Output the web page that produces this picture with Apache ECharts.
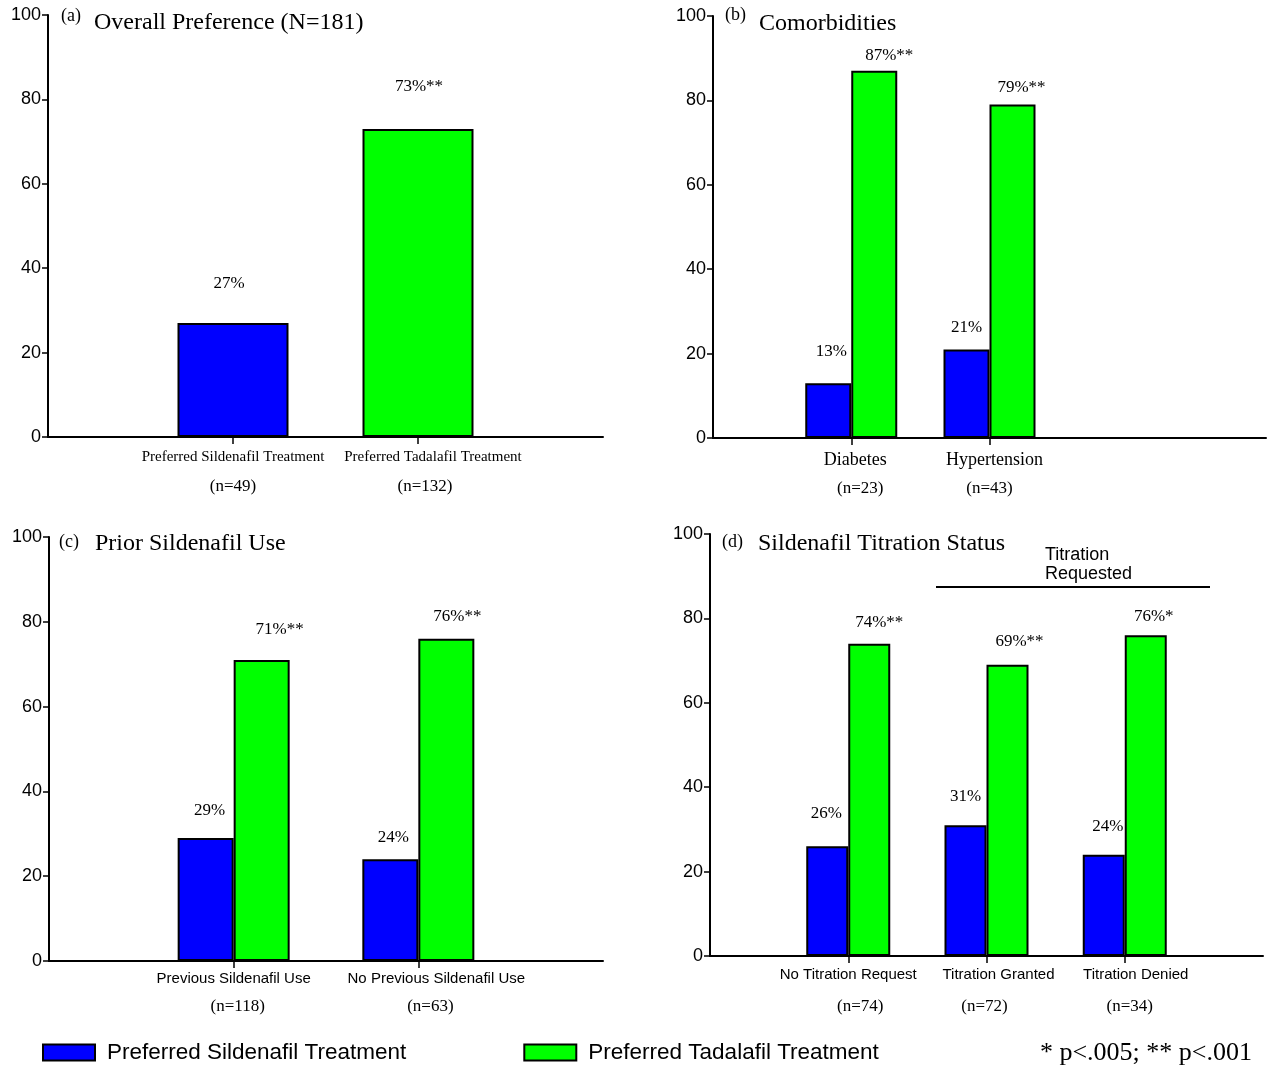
<!DOCTYPE html>
<html>
<head>
<meta charset="utf-8">
<script src="https://cdn.jsdelivr.net/npm/echarts@6/dist/echarts.min.js"></script>
<style>
  html, body { margin: 0; padding: 0; background: #fff; }
  #chart { width: 1267px; height: 1068px; }
</style>
</head>
<body>
<div id="chart"></div>
<script>
// ---- data -------------------------------------------------------------
const seriesNames = ['Preferred Sildenafil Treatment', 'Preferred Tadalafil Treatment'];

// (a) Overall preference
const overallCats = ['Preferred Sildenafil Treatment', 'Preferred Tadalafil Treatment'];
const overallN = [49, 132];
const overallPct = [27, 73];
const overallSig = ['', '**'];

// (b) Comorbidities
const comorbCats = ['Diabetes', 'Hypertension'];
const comorbN = [23, 43];
const comorbSild = [13, 21];
const comorbTada = [87, 79];
const comorbSig = ['**', '**'];

// (c) Prior sildenafil use
const priorCats = ['Previous Sildenafil Use', 'No Previous Sildenafil Use'];
const priorN = [118, 63];
const priorSild = [29, 24];
const priorTada = [71, 76];
const priorSig = ['**', '**'];

// (d) Sildenafil titration status
const titrCats = ['No Titration Request', 'Titration Granted', 'Titration Denied'];
const titrN = [74, 72, 34];
const titrSild = [26, 31, 24];
const titrTada = [74, 69, 76];
const titrSig = ['**', '**', '*'];

const panelTitles = [
  ['(a)', 'Overall Preference (N=181)'],
  ['(b)', 'Comorbidities'],
  ['(c)', 'Prior Sildenafil Use'],
  ['(d)', 'Sildenafil Titration Status']
];
const bracketLabel = 'Titration\nRequested';
const footnote = '* p<.005; ** p<.001';

// ---- styling ----------------------------------------------------------
const SERIF = '"Liberation Serif", "Times New Roman", serif';
const SANS = '"Liberation Sans", Arial, sans-serif';
const BLUE = '#0000ff';
const GREEN = '#00ff00';

// place values on the category slots of a panel; slot 0 (and any trailing
// slots) stay empty so the groups sit away from the y axis
function placed(vals, slots, start) {
  const out = new Array(slots).fill('-');
  vals.forEach((v, i) => { if (v !== null) out[start + i] = v; });
  return out;
}
function slotNames(cats, slots) {
  const out = new Array(slots).fill('');
  cats.forEach((c, i) => { out[i + 1] = c; });
  return out;
}

const panels = [
  {
    grid: { left: 48, right: 664, top: 15, bottom: 631 },
    slots: 4, cats: overallCats, n: overallN,
    sild: placed([overallPct[0]], 4, 1), tada: placed([overallPct[1]], 4, 2),
    sildSig: ['', ''], tadaSig: overallSig,
    barWidth: 111, barGap: '-100%',
    nameFont: { family: SERIF, size: 15 }, margin: 12, l1: 16, l2: 44,
    nameDx: [0, 15], nDx: [0, 7],
    sildOff: [[-4, -26], null], tadaOff: [null, [1, -29]]
  },
  {
    grid: { left: 713, right: 1, top: 16, bottom: 630 },
    slots: 5, cats: comorbCats, n: comorbN,
    sild: placed(comorbSild, 5, 1), tada: placed(comorbTada, 5, 1),
    sildSig: ['', ''], tadaSig: comorbSig,
    barWidth: 46, barGap: '0%',
    nameFont: { family: SERIF, size: 18 }, margin: 12, l1: 20, l2: 38,
    nameDx: [4, 5], nDx: [9, 0],
    sildOff: [[3, -18], [0, -8]], tadaOff: [[15, -2], [9, -4]]
  },
  {
    grid: { left: 49, right: 664, top: 537, bottom: 107 },
    slots: 4, cats: priorCats, n: priorN,
    sild: placed(priorSild, 4, 1), tada: placed(priorTada, 4, 1),
    sildSig: ['', ''], tadaSig: priorSig,
    barWidth: 56, barGap: '0%',
    nameFont: { family: SANS, size: 15 }, margin: 10, l1: 16, l2: 40,
    nameDx: [0, 18], nDx: [4, 12],
    sildOff: [[4, -14], [3, -8]], tadaOff: [[18, -17], [11, -9]]
  },
  {
    grid: { left: 710, right: 4, top: 534, bottom: 112 },
    slots: 5, cats: titrCats, n: titrN,
    sild: placed(titrSild, 5, 1), tada: placed(titrTada, 5, 1),
    sildSig: ['', '', ''], tadaSig: titrSig,
    barWidth: 42, barGap: '0%',
    nameFont: { family: SANS, size: 15 }, margin: 11, l1: 16, l2: 48,
    nameDx: [0, 12, 11], nDx: [12, -2, 5],
    sildOff: [[-1, -19], [0, -15], [4, -15]], tadaOff: [[10, -8], [12, -10], [8, -5]]
  }
];

function hpad(dx) {
  return dx >= 0 ? [0, 0, 0, 2 * dx] : [0, -2 * dx, 0, 0];
}

const grids = [], xAxes = [], yAxes = [], series = [], titles = [];

panels.forEach((p, k) => {
  grids.push(Object.assign({ outerBoundsMode: 'none', containLabel: false }, p.grid));

  const rich = {};
  p.cats.forEach((c, i) => {
    rich['m' + i] = {
      fontFamily: p.nameFont.family, fontSize: p.nameFont.size, color: '#000',
      lineHeight: p.l1, padding: hpad(p.nameDx[i])
    };
    rich['n' + i] = {
      fontFamily: SERIF, fontSize: 17, color: '#000',
      lineHeight: p.l2, padding: hpad(p.nDx[i])
    };
  });

  xAxes.push({
    type: 'category', gridIndex: k, boundaryGap: false,
    data: slotNames(p.cats, p.slots),
    axisLine: { lineStyle: { color: '#000', width: 2 } },
    axisTick: {
      show: true, length: 7, inside: false,
      interval: (i, v) => v !== '',
      lineStyle: { color: '#000', width: 1.5 }
    },
    axisLabel: {
      interval: 0, margin: p.margin, rich: rich,
      formatter: (v, i) => {
        const j = i - 1;
        if (!v) return '';
        return '{m' + j + '|' + v + '}\n{n' + j + '|(n=' + p.n[j] + ')}';
      }
    },
    splitLine: { show: false }
  });

  yAxes.push({
    type: 'value', gridIndex: k, min: 0, max: 100, interval: 20,
    axisLine: { show: true, lineStyle: { color: '#000', width: 2 } },
    axisTick: { show: true, length: 6, inside: false, lineStyle: { color: '#000', width: 1.5 } },
    axisLabel: { margin: 7, color: '#000', fontFamily: SANS, fontSize: 18 },
    splitLine: { show: false }
  });

  const mk = (vals, sig, offs, color, name) => ({
    type: 'bar', name: name, xAxisIndex: k, yAxisIndex: k,
    barWidth: p.barWidth, barGap: p.barGap,
    itemStyle: { color: color, borderColor: '#000', borderWidth: 2 },
    label: {
      show: true, position: 'top', distance: 5,
      fontFamily: SERIF, fontSize: 17, color: '#000',
      formatter: (q) => q.value + '%' + (sig[q.dataIndex - 1] || '')
    },
    data: vals.map((v, i) => {
      if (v === '-') return '-';
      const off = offs[i - 1];
      return off ? { value: v, label: { offset: off } } : v;
    }),
    animation: false
  });
  series.push(mk(p.sild, p.sildSig, p.sildOff, BLUE, seriesNames[0]));
  series.push(mk(p.tada, p.tadaSig, p.tadaOff, GREEN, seriesNames[1]));
});

// panel headings
const headPos = [
  [[61, 7], [94, 11]],
  [[725, 6], [759, 12]],
  [[59, 533], [95, 532]],
  [[722, 533], [758, 532]]
];
panelTitles.forEach((t, k) => {
  titles.push({
    text: t[0], left: headPos[k][0][0], top: headPos[k][0][1], padding: 0,
    textStyle: { fontFamily: SERIF, fontSize: 18, fontWeight: 'normal', color: '#000' }
  });
  titles.push({
    text: t[1], left: headPos[k][1][0], top: headPos[k][1][1], padding: 0,
    textStyle: { fontFamily: SERIF, fontSize: 24, fontWeight: 'normal', color: '#000' }
  });
});

const chart = echarts.init(document.getElementById('chart'), null, { renderer: 'canvas' });
chart.setOption({
  animation: false,
  backgroundColor: '#fff',
  title: titles,
  grid: grids,
  xAxis: xAxes,
  yAxis: yAxes,
  series: series,
  legend: {
    data: seriesNames,
    left: 42, top: 1041, padding: 0,
    icon: 'rect', itemWidth: 52, itemHeight: 16, itemGap: 117,
    itemStyle: { borderColor: '#000', borderWidth: 2 },
    textStyle: { fontFamily: SANS, fontSize: 22.5, color: '#000', padding: [0, 0, 0, 7] },
    selectedMode: false
  },
  graphic: [
    {
      type: 'line', silent: true,
      shape: { x1: 936, y1: 587, x2: 1210, y2: 587 },
      style: { stroke: '#000', lineWidth: 2 }
    },
    {
      type: 'text', silent: true, x: 1045, y: 546,
      style: {
        text: bracketLabel, fontFamily: SANS, fontSize: 18, lineHeight: 19,
        fill: '#000', align: 'left', verticalAlign: 'top'
      }
    },
    {
      type: 'text', silent: true, x: 1252, y: 1053,
      style: {
        text: footnote, fontFamily: SERIF, fontSize: 26,
        fill: '#000', align: 'right', verticalAlign: 'middle'
      }
    }
  ]
});
</script>
</body>
</html>
